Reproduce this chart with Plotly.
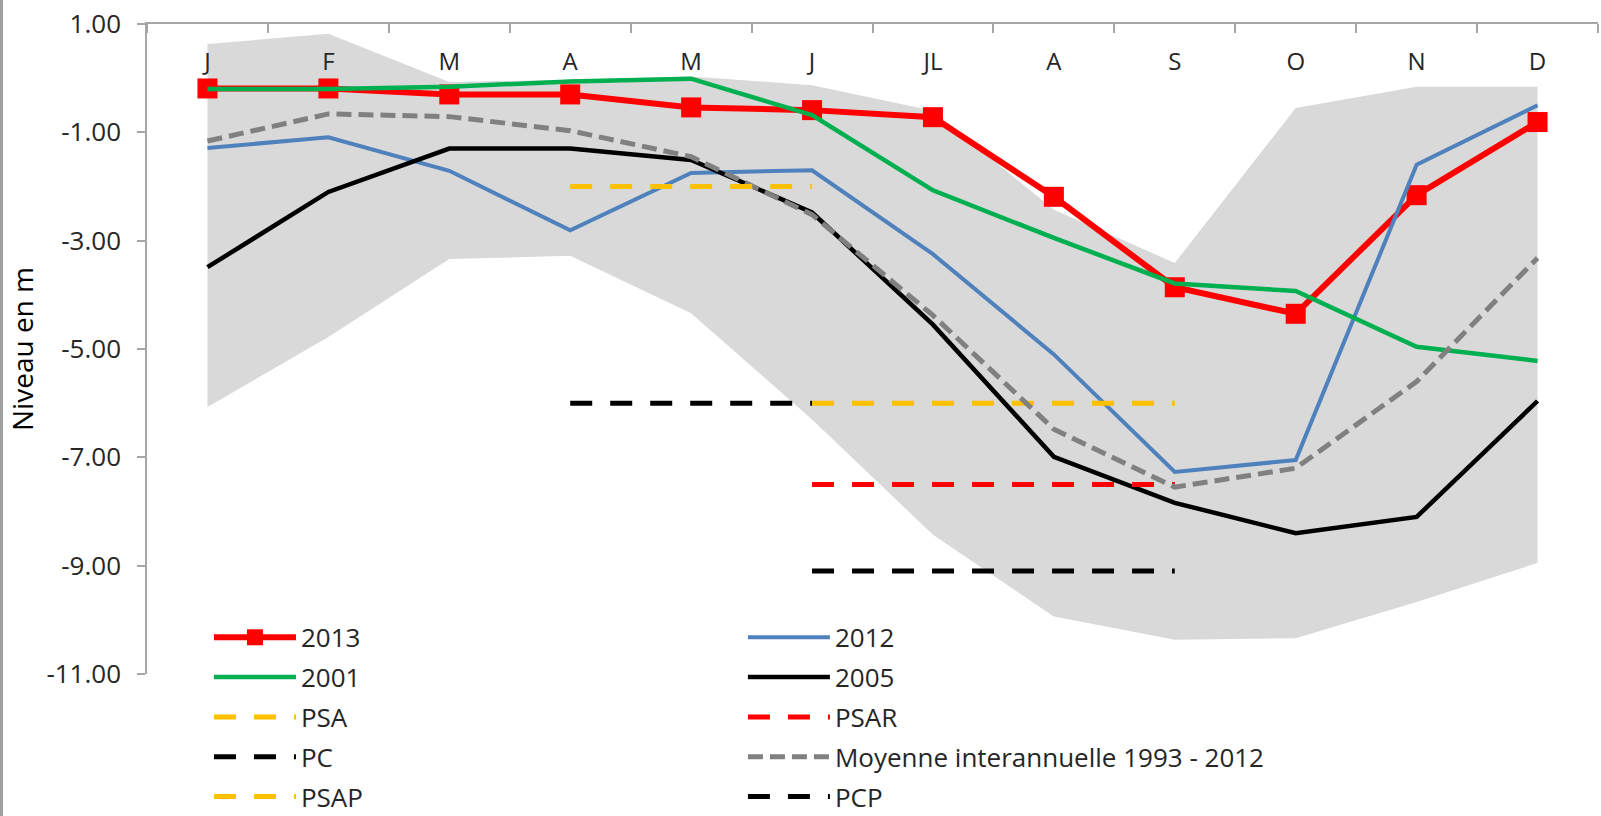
import plotly.graph_objects as go

months = ["J", "F", "M", "A", "M", "J", "JL", "A", "S", "O", "N", "D"]
x_idx = list(range(len(months)))

y2013 = [-0.19, -0.19, -0.30, -0.30, -0.54, -0.59, -0.72, -2.19, -3.86, -4.35, -2.16, -0.81]
y2012 = [-1.29, -1.09, -1.71, -2.81, -1.75, -1.70, -3.25, -5.10, -7.27, -7.05, -1.60, -0.50]
y2001 = [-0.20, -0.20, -0.16, -0.06, -0.01, -0.68, -2.07, -2.95, -3.79, -3.93, -4.96, -5.22]
y2005 = [-3.49, -2.10, -1.30, -1.30, -1.51, -2.48, -4.55, -6.99, -7.84, -8.40, -8.10, -5.96]
ymoy = [-1.16, -0.66, -0.71, -0.97, -1.45, -2.52, -4.38, -6.48, -7.55, -7.20, -5.60, -3.32]

band_hi = [0.63, 0.82, -0.07, -0.03, 0.03, -0.13, -0.60, -2.43, -3.41, -0.55, -0.16, -0.16]
band_lo = [-6.07, -4.78, -3.34, -3.28, -4.34, -6.30, -8.43, -9.94, -10.37, -10.34, -9.67, -8.95]

N = None
psa = [N, N, N, N, N, -6.0, -6.0, -6.0, -6.0, N, N, N]
psar = [N, N, N, N, N, -7.5, -7.5, -7.5, -7.5, N, N, N]
pc = [N, N, N, -6.0, -6.0, -6.0, N, N, N, N, N, N]
psap = [N, N, N, -2.0, -2.0, -2.0, N, N, N, N, N, N]
pcp = [N, N, N, N, N, -9.1, -9.1, -9.1, -9.1, N, N, N]

y_ticks = [1, -1, -3, -5, -7, -9, -11]
y_ticktext = [f"{v:.2f}" for v in y_ticks]

fig = go.Figure()

# min/max envelope
fig.add_trace(go.Scatter(x=x_idx, y=band_lo, mode="lines", line=dict(width=0, color="#D9D9D9"),
                         showlegend=False, hoverinfo="skip"))
fig.add_trace(go.Scatter(x=x_idx, y=band_hi, mode="lines", line=dict(width=0, color="#D9D9D9"),
                         fill="tonexty", fillcolor="#D9D9D9", showlegend=False, hoverinfo="skip"))

TH = "22px,18px"

series = [
    ("2013", y2013, dict(color="#FF0000", width=6), dict(symbol="square", size=20, color="#FF0000"), "legend"),
    ("2012", y2012, dict(color="#4F81BD", width=4), None, "legend2"),
    ("2001", y2001, dict(color="#00B050", width=4.5), None, "legend"),
    ("2005", y2005, dict(color="#000000", width=4.5), None, "legend2"),
    ("PSA", psa, dict(color="#FFC000", width=5, dash=TH), None, "legend"),
    ("PSAR", psar, dict(color="#FF0000", width=5, dash=TH), None, "legend2"),
    ("PC", pc, dict(color="#000000", width=5, dash=TH), None, "legend"),
    ("Moyenne interannuelle 1993 - 2012", ymoy, dict(color="#808080", width=5, dash="15px,7px"), None, "legend2"),
    ("PSAP", psap, dict(color="#FFC000", width=5, dash=TH), None, "legend"),
    ("PCP", pcp, dict(color="#000000", width=5, dash=TH), None, "legend2"),
]

for name, ys, line, marker, leg in series:
    fig.add_trace(go.Scatter(
        x=x_idx, y=ys, name=name, legendgroup=name, legend=leg,
        mode="lines+markers" if marker else "lines",
        line=line, marker=marker, connectgaps=False,
    ))

# carrier trace so the month-label axis (x2) is drawn
fig.add_trace(go.Scatter(x=x_idx, y=band_hi, xaxis="x2", mode="lines",
                         line=dict(width=0), opacity=0, showlegend=False, hoverinfo="skip"))

axis_grey = "#A6A6A6"
legend_common = dict(xanchor="left", yanchor="top", orientation="v", bgcolor="rgba(0,0,0,0)",
                     font=dict(family="Open Sans", size=26, color="#262626"),
                     itemwidth=82, tracegroupgap=3)

fig.update_layout(
    width=1601, height=816,
    margin=dict(l=147, r=3, t=24, b=142, autoexpand=False),
    plot_bgcolor="white", paper_bgcolor="white",
    font=dict(family="Open Sans", size=26, color="#262626"),
    xaxis=dict(
        range=[-0.5, 11.5], side="top",
        tickmode="array", tickvals=x_idx, ticktext=months,
        ticks="", showticklabels=False,
        showline=True, linecolor=axis_grey, linewidth=1.5,
        showgrid=False, zeroline=False,
        minor=dict(tick0=-0.5, dtick=1, ticks="inside", ticklen=9, tickcolor=axis_grey, tickwidth=1.5, showgrid=False),
    ),
    xaxis2=dict(
        overlaying="x", anchor="free", position=0.9677, side="bottom",
        range=[-0.5, 11.5], tickmode="array", tickvals=x_idx, ticktext=months,
        ticks="", showline=False, showgrid=False, zeroline=False,
        tickfont=dict(size=24, color="#262626"),
    ),
    yaxis=dict(
        range=[-11, 1], tickmode="array", tickvals=y_ticks, ticktext=y_ticktext,
        ticks="outside", ticklen=8, tickcolor=axis_grey, tickwidth=1.5,
        ticklabelstandoff=11,
        tickfont=dict(size=26, color="#262626"),
        showline=True, linecolor=axis_grey, linewidth=1.5,
        showgrid=False, zeroline=False,
        title=dict(text="Niveau en m", font=dict(size=28, color="#000000"), standoff=5),
    ),
    legend=dict(x=0.0427, y=0.0925, **legend_common),
    legend2=dict(x=0.4107, y=0.0925, **legend_common),
    shapes=[dict(type="line", xref="paper", yref="paper",
                 x0=-145.5 / 1451, x1=-145.5 / 1451, y0=-142 / 650, y1=674 / 650,
                 line=dict(color="#A0A0A0", width=3))],
)

fig.write_html("out.html", config={"displayModeBar": False},
               post_script="document.body.style.margin='0';document.body.style.overflow='hidden';")
